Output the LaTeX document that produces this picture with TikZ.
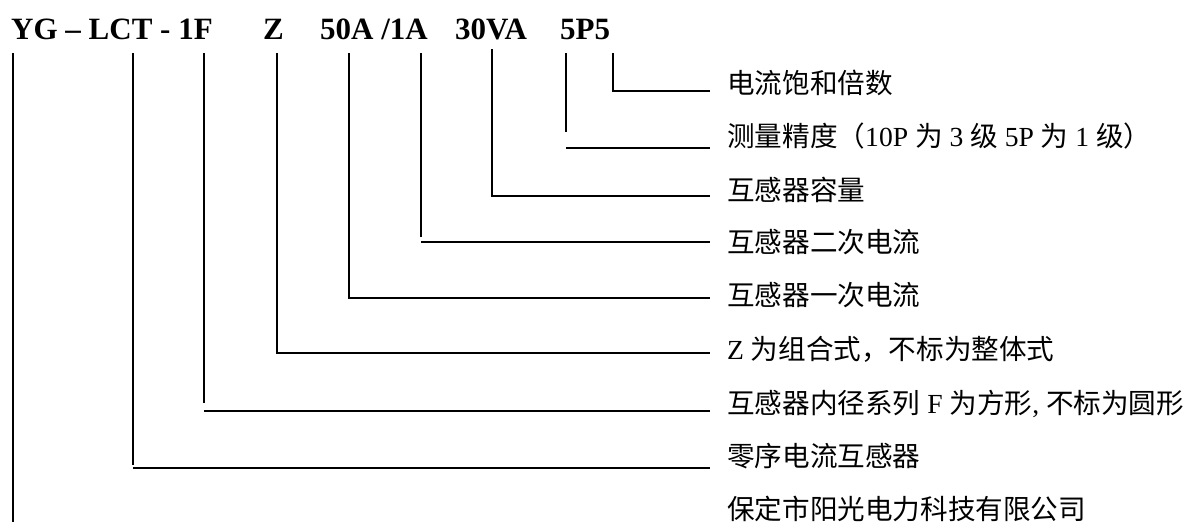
\documentclass[tikz,border=0pt]{standalone}
\usepackage{fontspec}
\setmainfont{Liberation Serif}
\newfontfamily\cjk{Noto Sans CJK SC}
\begin{document}
\begin{tikzpicture}[x=1pt,y=-1pt,
  code/.style={anchor=base west,inner sep=0pt,font=\fontsize{31}{34}\selectfont\bfseries},
  lbl/.style={anchor=west,inner sep=0pt,font=\fontsize{27.6}{30}\selectfont},
  lead/.style={line width=1.3pt,line cap=butt}]
\useasboundingbox (0,0) rectangle (1197,523);
% top code
\node[code] (c1) at (11,39) {YG – LCT - 1F};
\node[code] (c2) at (263,39) {Z};
\node[code] (c3) at (320,39) {50A /1A};
\node[code] (c4) at (455,39) {30VA};
\node[code] (c5) at (560,39) {5P5};
% labels
\node[lbl] (l1) at (727,83) {{\cjk 电流饱和倍数}};
\node[lbl] (l2) at (727,136) {{\cjk 测量精度（}10P {\cjk 为} 3 {\cjk 级} 5P {\cjk 为} 1 {\cjk 级）}};
\node[lbl] (l3) at (727,190) {{\cjk 互感器容量}};
\node[lbl] (l4) at (727,242) {{\cjk 互感器二次电流}};
\node[lbl] (l5) at (727,295) {{\cjk 互感器一次电流}};
\node[lbl] (l6) at (727,349) {Z {\cjk 为组合式，不标为整体式}};
\node[lbl] (l7) at (727,404) {{\cjk 互感器内径系列} F {\cjk 为方形}, {\cjk 不标为圆形}};
\node[lbl] (l8) at (727,456) {{\cjk 零序电流互感器}};
\node[lbl] (l9) at (727,509) {{\cjk 保定市阳光电力科技有限公司}};
% leader tops
\coordinate (t1) at (13,53);
\coordinate (t2) at (133,53);
\coordinate (t3) at (204,53);
\coordinate (t4) at (277,53);
\coordinate (t5) at (349,53);
\coordinate (t6) at (421,53);
\coordinate (t7) at (492,49);
\coordinate (t8) at (566,53);
\coordinate (t9) at (613,53);
% leader ends
\coordinate (e9) at (710,91);
\coordinate (e8) at (710,148);
\coordinate (e7) at (710,196);
\coordinate (e6) at (710,242);
\coordinate (e5) at (710,298);
\coordinate (e4) at (710,353);
\coordinate (e3) at (710,411);
\coordinate (e2) at (710,468);
\coordinate (b1) at (13,522);
% leaders
\draw[lead] (t9) |- (e9);
\draw[lead] (t8) -- ++(0,79);
\draw[lead] (t8 |- e8) -- (e8);
\draw[lead] (t7) |- (e7);
\draw[lead] (t6) -- ++(0,184);
\draw[lead] (t6 |- e6) -- (e6);
\draw[lead] (t5) |- (e5);
\draw[lead] (t4) |- (e4);
\draw[lead] (t3) -- ++(0,350);
\draw[lead] (t3 |- e3) -- (e3);
\draw[lead] (t2) -- ++(0,412);
\draw[lead] (t2 |- e2) -- (e2);
\draw[lead] (t1) -- (b1);
\end{tikzpicture}
\end{document}
